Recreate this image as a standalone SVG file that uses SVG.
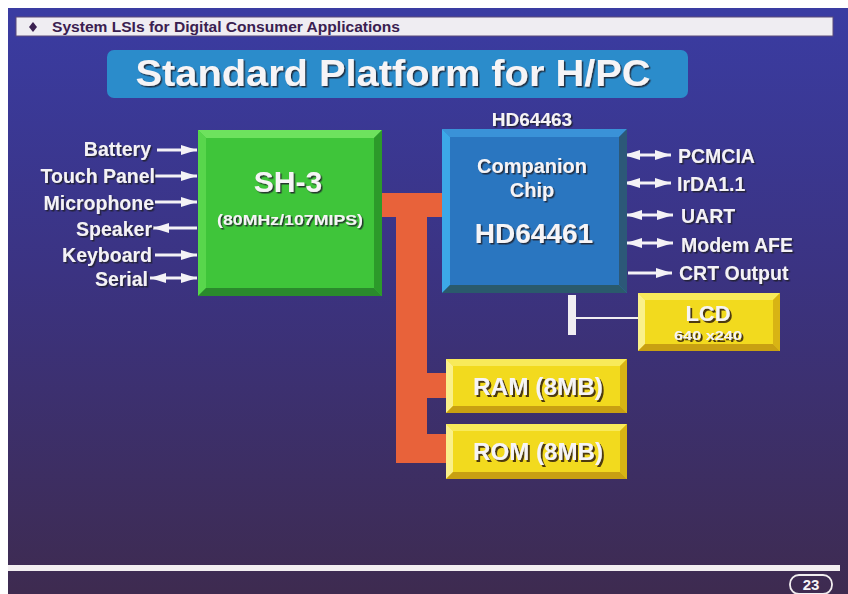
<svg xmlns="http://www.w3.org/2000/svg" width="848" height="594" viewBox="0 0 848 594">
<defs>
<linearGradient id="bg" x1="0" y1="0" x2="0" y2="1">
<stop offset="0" stop-color="#3a3ca2"/>
<stop offset="0.45" stop-color="#3b3382"/>
<stop offset="1" stop-color="#3e2b50"/>
</linearGradient>
<filter id="sh" x="-10%" y="-20%" width="130%" height="150%">
<feDropShadow dx="1.5" dy="1.5" stdDeviation="0.6" flood-color="#1a1a2a" flood-opacity="0.85"/>
</filter>
<filter id="sh2" x="-10%" y="-20%" width="130%" height="150%">
<feDropShadow dx="2" dy="2" stdDeviation="0.7" flood-color="#3a2a10" flood-opacity="0.9"/>
</filter>
<marker id="ah" viewBox="0 0 16 10" refX="16" refY="5" markerWidth="16" markerHeight="10" markerUnits="userSpaceOnUse" orient="auto-start-reverse">
<path d="M0,0 L16,5 L0,10 z" fill="#f4f2f6"/>
</marker>
<style>
.lbl{font-family:"Liberation Sans",Arial,sans-serif;font-weight:bold;font-size:19.5px;fill:#f4f2f6}
.wt{font-family:"Liberation Sans",Arial,sans-serif;font-weight:bold;fill:#f6f4f6}
.ar{stroke:#f4f2f6;stroke-width:3;fill:none}
</style>
</defs>
<rect x="0" y="0" width="848" height="594" fill="#ffffff"/>
<rect x="8" y="8" width="840" height="586" fill="url(#bg)"/>
<!-- header bar -->
<g id="header">
<rect x="16" y="17" width="817" height="19" fill="#efedf2" stroke="#5a4a7a" stroke-width="1"/>
<path d="M33,22 L37,27 L33,32 L29,27 z" fill="#3a2050"/>
<text x="52" y="32" font-family="Liberation Sans,Arial,sans-serif" font-weight="bold" font-size="14" fill="#3a2050" textLength="348" lengthAdjust="spacingAndGlyphs">System LSIs for Digital Consumer Applications</text>
</g>
<!-- title -->
<g id="title">
<rect x="107" y="50" width="581" height="48" rx="7" fill="#2b8ccb"/>
<text x="393" y="86" class="wt" font-size="36" text-anchor="middle" textLength="515" lengthAdjust="spacingAndGlyphs" filter="url(#sh)">Standard Platform for H/PC</text>
</g>
<!-- connectors -->
<g id="connectors">
<path d="M382,193 L442,193 L442,217 L427,217 L427,373 L446,373 L446,398 L427,398 L427,434 L446,434 L446,463 L396,463 L396,217 L382,217 z" fill="#e8623a"/>
<rect x="568" y="295" width="8" height="40" fill="#f0eef2"/>
<line x1="576" y1="318" x2="638" y2="318" stroke="#f0eef2" stroke-width="2"/>
<line class="ar" x1="157" y1="150" x2="197" y2="150" marker-end="url(#ah)"/>
<line class="ar" x1="155" y1="176" x2="197" y2="176" marker-end="url(#ah)"/>
<line class="ar" x1="155" y1="202" x2="197" y2="202" marker-end="url(#ah)"/>
<line class="ar" x1="197" y1="228" x2="153" y2="228" marker-end="url(#ah)"/>
<line class="ar" x1="155" y1="255" x2="197" y2="255" marker-end="url(#ah)"/>
<line class="ar" x1="150" y1="278" x2="197" y2="278" marker-start="url(#ah)" marker-end="url(#ah)"/>
<line class="ar" x1="624" y1="155" x2="671" y2="155" marker-start="url(#ah)" marker-end="url(#ah)"/>
<line class="ar" x1="624" y1="183" x2="671" y2="183" marker-start="url(#ah)" marker-end="url(#ah)"/>
<line class="ar" x1="626" y1="215" x2="673" y2="215" marker-start="url(#ah)" marker-end="url(#ah)"/>
<line class="ar" x1="626" y1="243" x2="673" y2="243" marker-start="url(#ah)" marker-end="url(#ah)"/>
<line class="ar" x1="628" y1="273" x2="672" y2="273" marker-end="url(#ah)"/>
</g>
<!-- left labels -->
<g id="left-labels" filter="url(#sh)">
<text class="lbl" x="151" y="156" text-anchor="end">Battery</text>
<text class="lbl" x="155" y="183" text-anchor="end">Touch Panel</text>
<text class="lbl" x="154" y="210" text-anchor="end">Microphone</text>
<text class="lbl" x="152" y="236" text-anchor="end">Speaker</text>
<text class="lbl" x="152" y="262" text-anchor="end">Keyboard</text>
<text class="lbl" x="148" y="286" text-anchor="end">Serial</text>
</g>
<!-- right labels -->
<g id="right-labels" filter="url(#sh)">
<text class="lbl" x="678" y="163">PCMCIA</text>
<text class="lbl" x="677" y="191">IrDA1.1</text>
<text class="lbl" x="681" y="223">UART</text>
<text class="lbl" x="681" y="252">Modem AFE</text>
<text class="lbl" x="679" y="280">CRT Output</text>
</g>
<!-- SH-3 -->
<g id="sh3">
<rect x="198" y="130" width="184" height="166" fill="#3fc53a"/>
<polygon points="198,130 382,130 374,138 206,138" fill="#6ee25e"/>
<polygon points="198,130 206,138 206,288 198,296" fill="#58d64c"/>
<polygon points="382,130 382,296 374,288 374,138" fill="#2c9a2a"/>
<polygon points="198,296 206,288 374,288 382,296" fill="#2a8a2c"/>
<text class="wt" x="288" y="192" font-size="30" text-anchor="middle" filter="url(#sh)">SH-3</text>
<text class="wt" x="290" y="225" font-size="15" text-anchor="middle" textLength="146" lengthAdjust="spacingAndGlyphs" filter="url(#sh)">(80MHz/107MIPS)</text>
</g>
<!-- Companion chip -->
<g id="hd64461">
<text class="wt" x="532" y="126" font-size="19" text-anchor="middle" filter="url(#sh)">HD64463</text>
<rect x="442" y="129" width="185" height="164" fill="#2a76c0"/>
<polygon points="442,129 627,129 619,137 450,137" fill="#3a92d8"/>
<polygon points="442,129 450,137 450,285 442,293" fill="#3ca8e8"/>
<polygon points="627,129 627,293 619,285 619,137" fill="#2c5878"/>
<polygon points="442,293 450,285 619,285 627,293" fill="#2a5a6c"/>
<text class="wt" x="532" y="173" font-size="20" text-anchor="middle" filter="url(#sh)">Companion</text>
<text class="wt" x="532" y="197" font-size="20" text-anchor="middle" filter="url(#sh)">Chip</text>
<text class="wt" x="534" y="243" font-size="28" text-anchor="middle" filter="url(#sh)">HD64461</text>
</g>
<!-- LCD -->
<g id="lcd">
<rect x="638" y="293" width="142" height="58" fill="#f2da1e"/>
<polygon points="638,293 780,293 773,300 645,300" fill="#f8ea5a"/>
<polygon points="638,293 645,300 645,344 638,351" fill="#faf08a"/>
<polygon points="780,293 780,351 773,344 773,300" fill="#d8b414"/>
<polygon points="638,351 645,344 773,344 780,351" fill="#c8a012"/>
<text class="wt" x="708" y="321" font-size="22" text-anchor="middle" filter="url(#sh2)">LCD</text>
<text class="wt" x="708" y="340" font-size="12.5" text-anchor="middle" textLength="68" lengthAdjust="spacingAndGlyphs" filter="url(#sh2)">640 x240</text>
</g>
<!-- RAM -->
<g id="ram">
<rect x="446" y="359" width="181" height="54" fill="#f2da1e"/>
<polygon points="446,359 627,359 620,366 453,366" fill="#f8ea5a"/>
<polygon points="446,359 453,366 453,406 446,413" fill="#faf08a"/>
<polygon points="627,359 627,413 620,406 620,366" fill="#d8b414"/>
<polygon points="446,413 453,406 620,406 627,413" fill="#c8a012"/>
<text class="wt" x="538" y="395" font-size="23" text-anchor="middle" textLength="130" lengthAdjust="spacingAndGlyphs" filter="url(#sh2)">RAM (8MB)</text>
</g>
<!-- ROM -->
<g id="rom">
<rect x="446" y="424" width="181" height="55" fill="#f2da1e"/>
<polygon points="446,424 627,424 620,431 453,431" fill="#f8ea5a"/>
<polygon points="446,424 453,431 453,472 446,479" fill="#faf08a"/>
<polygon points="627,424 627,479 620,472 620,431" fill="#d8b414"/>
<polygon points="446,479 453,472 620,472 627,479" fill="#c8a012"/>
<text class="wt" x="538" y="460" font-size="23" text-anchor="middle" textLength="130" lengthAdjust="spacingAndGlyphs" filter="url(#sh2)">ROM (8MB)</text>
</g>
<!-- footer -->
<g id="footer">
<rect x="8" y="565" width="832" height="6" fill="#f2eef0"/>
<rect x="790" y="575" width="42" height="19" rx="9" fill="none" stroke="#f2eef0" stroke-width="1.8"/>
<text class="wt" x="811" y="590" font-size="15" text-anchor="middle">23</text>
</g>
</svg>
